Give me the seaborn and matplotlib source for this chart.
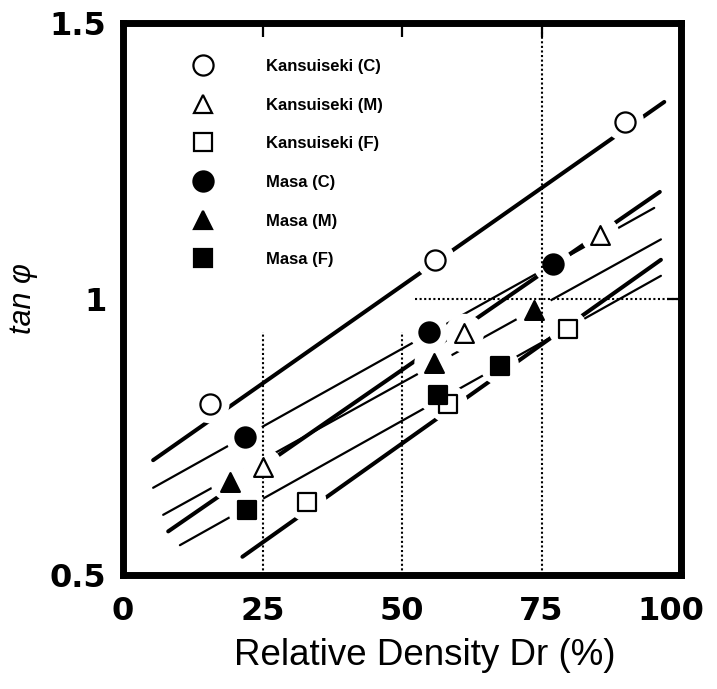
import matplotlib
matplotlib.use("Agg")
import matplotlib.pyplot as plt
import matplotlib.transforms as mtransforms
from matplotlib.lines import Line2D
import numpy as np
import pandas as pd
import seaborn as sns

# ---------------- data ----------------
series = ["Kansuiseki (C)", "Kansuiseki (M)", "Kansuiseki (F)",
          "Masa (C)", "Masa (M)", "Masa (F)"]
marker_of = ["o", "^", "s", "o", "^", "s"]
filled_of = [False, False, False, True, True, True]

kc_dr = [15.6, 56.0, 89.9];  kc_tan = [0.810, 1.071, 1.321]
km_dr = [25.1, 61.2, 85.5];  km_tan = [0.696, 0.938, 1.116]
kf_dr = [33.0, 58.3, 79.7];  kf_tan = [0.632, 0.810, 0.946]
mc_dr = [21.9, 54.8, 77.0];  mc_tan = [0.750, 0.940, 1.063]
mm_dr = [19.2, 55.7, 73.6];  mm_tan = [0.668, 0.884, 0.980]
mf_dr = [22.3, 56.4, 67.5];  mf_tan = [0.618, 0.826, 0.879]

# fitted lines: Dr at both ends, tan phi at both ends
kc_fit_dr = [5.4, 97.0];   kc_fit_tan = [0.708, 1.357]
km_fit_dr = [8.1, 96.2];   km_fit_tan = [0.579, 1.194]
kf_fit_dr = [21.4, 96.4];  kf_fit_tan = [0.533, 1.071]
mc_fit_dr = [5.4, 95.2];   mc_fit_tan = [0.658, 1.165]
mm_fit_dr = [7.2, 96.4];   mm_fit_tan = [0.609, 1.108]
mf_fit_dr = [10.2, 96.4];  mf_fit_tan = [0.554, 1.042]

# dotted reference lines
ref_v_dr = [25, 50, 75]
ref_v_top = [0.94, 0.94, 1.5]
ref_h_tan = 1.0
ref_h_from = 52.3

x_ticks = [0, 25, 50, 75, 100]
x_ticklabels = ["0", "25", "50", "75", "100"]
y_ticks = [0.5, 1.0, 1.5]
y_ticklabels = ["0.5", "1", "1.5"]

pts_dr = [kc_dr, km_dr, kf_dr, mc_dr, mm_dr, mf_dr]
pts_tan = [kc_tan, km_tan, kf_tan, mc_tan, mm_tan, mf_tan]
fit_dr = [kc_fit_dr, km_fit_dr, kf_fit_dr, mc_fit_dr, mm_fit_dr, mf_fit_dr]
fit_tan = [kc_fit_tan, km_fit_tan, kf_fit_tan, mc_fit_tan, mm_fit_tan, mf_fit_tan]

# ---------------- style ----------------
sns.set_theme(style="white")
plt.rcParams["font.family"] = ["Liberation Sans", "DejaVu Sans"]
plt.rcParams.update({"text.color": "black", "axes.labelcolor": "black",
                     "xtick.color": "black", "ytick.color": "black"})

fig = plt.figure(figsize=(7.17, 6.89), dpi=100)
ax = fig.add_axes([123 / 717, 1 - 575 / 689, (681 - 123) / 717, (575 - 23) / 689])

ms_of = {"o": 14.5, "^": 13.5, "s": 12.8}

# fitted lines (thick for Kansuiseki, thin for Masa)
for i, name in enumerate(series):
    lw = 2.9 if not filled_of[i] else 1.6
    sns.lineplot(x=fit_dr[i], y=fit_tan[i], ax=ax, color="black", lw=lw,
                 zorder=1, legend=False, solid_capstyle="round")

# white halos that break the lines around the symbols
all_dr = sum(pts_dr, [])
all_tan = sum(pts_tan, [])
sns.scatterplot(x=all_dr, y=all_tan, ax=ax, s=28 ** 2, color="white",
                edgecolor="none", linewidth=0, zorder=2, legend=False)

# dotted reference lines
ax.vlines(ref_v_dr, 0.5, ref_v_top, colors="black", linestyles=(0, (1, 1.2)),
          lw=1.5, zorder=3)
ax.hlines(ref_h_tan, ref_h_from, 100, colors="black", linestyles=(0, (1, 1.2)),
          lw=1.5, zorder=3)

# symbols
handles = []
for i, name in enumerate(series):
    m = marker_of[i]
    fc = "black" if filled_of[i] else "white"
    ms = ms_of[m]
    sns.scatterplot(x=pts_dr[i], y=pts_tan[i], ax=ax, marker=m, s=ms ** 2,
                    color=fc, edgecolor="black", linewidth=1.6, zorder=4,
                    legend=False)
    handles.append(Line2D([], [], ls="none", marker=m, ms=ms, mfc=fc,
                          mec="black", mew=1.6, label=name))

leg = ax.legend(handles=handles, loc="upper left", bbox_to_anchor=(0.128, 0.935),
                frameon=False, borderpad=0, borderaxespad=0, handlelength=1.0,
                handletextpad=3.3, labelspacing=1.42,
                prop={"family": "Liberation Sans", "weight": "bold", "size": 12})
for t in leg.get_texts():
    t.set_color("black")

# axes
ax.set_xlim(0, 100)
ax.set_ylim(0.5, 1.5)
ax.set_xticks(x_ticks)
ax.set_xticklabels(x_ticklabels)
ax.set_yticks(y_ticks)
ax.set_yticklabels(y_ticklabels)
ax.tick_params(direction="in", top=True, right=True, length=10, width=1.6,
               color="black", labelcolor="black", labelsize=23)
ax.tick_params(axis="x", pad=15)
ax.tick_params(axis="y", pad=12)
for lbl in ax.get_xticklabels() + ax.get_yticklabels():
    lbl.set_fontfamily("DejaVu Sans")
    lbl.set_fontweight("bold")
# shift the "100" label left so that it fits the figure
off = mtransforms.ScaledTranslation(-10 / 100, 0, fig.dpi_scale_trans)
last = ax.get_xticklabels()[-1]
last.set_transform(last.get_transform() + off)

for sp in ax.spines.values():
    sp.set_linewidth(5)
    sp.set_color("black")

ax.set_xlabel("Relative Density Dr (%)", fontsize=26.5, color="black",
              family=["Liberation Sans", "DejaVu Sans"])
ax.xaxis.set_label_coords((425 - 123) / 558, (575 - 638) / 552)
ax.set_ylabel("tan φ", fontsize=22, style="italic", color="black",
              family=["Liberation Sans", "DejaVu Sans"])
ax.yaxis.set_label_coords((38 - 123) / 558, 0.5)

fig.savefig("out.png", dpi=100)
